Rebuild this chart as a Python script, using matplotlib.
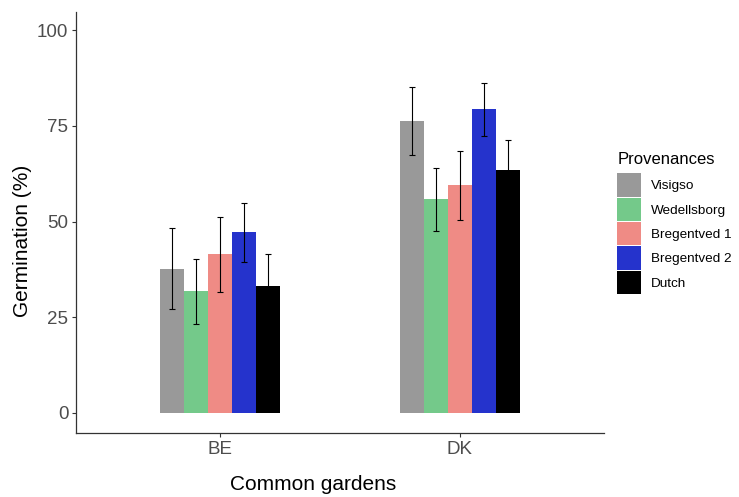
import numpy as np
import matplotlib.pyplot as plt
from matplotlib.patches import Rectangle

plt.rcParams['font.family'] = ['Liberation Sans', 'DejaVu Sans']

# data
gardens = ['BE', 'DK']
provenances = ['Visigso', 'Wedellsborg', 'Bregentved 1', 'Bregentved 2', 'Dutch']
colors = ['#999999', '#74c98a', '#ef8b85', '#2533cc', '#000000']

be_mean = [37.7, 31.8, 41.4, 47.2, 33.2]
be_err = [10.5, 8.5, 9.7, 7.7, 8.2]
dk_mean = [76.3, 55.8, 59.5, 79.4, 63.4]
dk_err = [9.0, 8.3, 9.0, 6.9, 7.8]

means = np.array([be_mean, dk_mean])
errs = np.array([be_err, dk_err])

W, H = 739, 497


def fx(px):
    return px / W


def fy(py):
    # pixel rows counted from the top
    return 1 - py / H


fig = plt.figure(figsize=(W / 100, H / 100), dpi=100)
ax = fig.add_axes([fx(76), fy(433), fx(528), (433 - 12) / H])

xg = np.arange(1, len(gardens) + 1)
w = 0.1
for i, p in enumerate(provenances):
    x = xg + (i - 2) * w
    ax.bar(x, means[:, i], width=w, color=colors[i], zorder=1)
    ax.errorbar(x, means[:, i], yerr=errs[:, i], fmt='none', ecolor='black',
                elinewidth=0.8, capsize=2.2, capthick=0.8, zorder=2)

ax.set_xlim(0.4, 2.6)
ax.set_ylim(-5.3, 104.8)
ax.set_xticks(xg)
ax.set_xticklabels(gardens)
ax.set_yticks([0, 25, 50, 75, 100])

for s in ['top', 'right']:
    ax.spines[s].set_visible(False)
for s in ['left', 'bottom']:
    ax.spines[s].set_color('#333333')
    ax.spines[s].set_linewidth(0.9)

ax.tick_params(axis='both', length=3, width=0.8, color='#333333',
               labelcolor='#4d4d4d', labelsize=13.5, pad=2.5)

# axis titles (placed where the reference has them)
fig.text(fx(313), fy(490), 'Common gardens', fontsize=15, ha='center',
         va='baseline')
fig.text(fx(23), fy(241), 'Germination (%)', fontsize=15, rotation=90,
         ha='center', va='center')

# legend drawn by hand to match the ggplot key sizes
fig.text(fx(618), fy(164.5), 'Provenances', fontsize=12, ha='left',
         va='baseline')
for i, p in enumerate(provenances):
    top = 173.3 + i * 24.3
    fig.add_artist(Rectangle((fx(617), fy(top + 23.3)), fx(24), 23.3 / H,
                             transform=fig.transFigure, color=colors[i],
                             linewidth=0))
    fig.text(fx(651), fy(top + 11.7), p, fontsize=9.7, ha='left',
             va='center_baseline')

fig.savefig('out.png', dpi=100, facecolor='white')
